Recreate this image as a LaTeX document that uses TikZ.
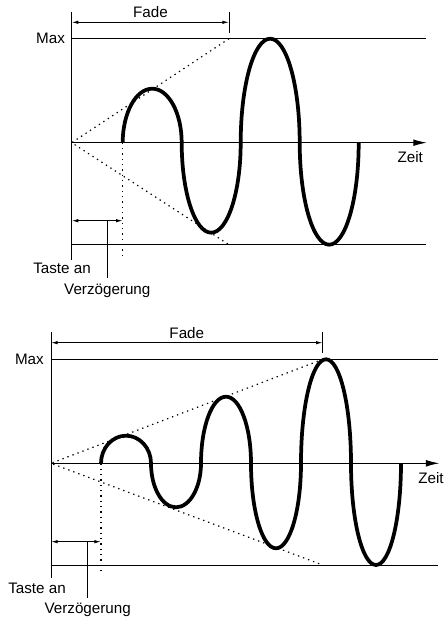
\documentclass[tikz,border=0pt]{standalone}
\usepackage{fontspec}
\setmainfont{Liberation Sans}
\usetikzlibrary{arrows.meta}

\begin{document}
\begin{tikzpicture}[x=.75pt,y=.75pt,>={Latex[length=5pt,width=2.6pt]},
  rule/.style={line width=.7pt},
  envelope/.style={line width=.9pt,dash pattern=on 1pt off 3pt},
  wave/.style={line width=2.8pt},
  lab/.style={inner sep=0pt,font=\fontsize{11.4}{13}\selectfont},
  axisarrow/.style={rule,-{Latex[length=10pt,width=5pt]}}]
\useasboundingbox (0,0) rectangle (444,622);
% upper panel: short fade
\begin{scope}[shift={(71.7,479.3)}]
  \coordinate (o1) at (0,0);
  \coordinate (k1) at (51,0);
  \draw[rule] (0,131) -- (0,-117.3);
  \draw[rule] (0,104) -- (354.3,104);
  \draw[rule] (0,-102) -- (354.3,-102);
  \draw[axisarrow] (o1) -- (355,0);
  \draw[rule] (157.3,131) -- (157.3,109.7);
  \draw[rule,<->] (0,120.4) -- (157.3,120.4);
  \draw[envelope] (157.3,104) -- (o1) -- (157.3,-102);
  \draw[envelope] (k1) -- (51,-114.3);
  \draw[rule,<->] (0,-78) -- (51,-78);
  \node[lab,anchor=east] (max1) at (-6.5,104) {Max};
  \node[lab,anchor=base] (fade1) at (78.7,125) {Fade};
  \node[lab,anchor=base] (zeit1) at (338.6,-20) {Zeit};
  \node[lab,anchor=base] (key1) at (-9.7,-131) {Taste an};
  \node[lab,anchor=base] (dly1) at (35.6,-152) {Verzögerung};
  \draw[rule] (35.6,-78) -- (35.6,-135);
  \draw[wave] (k1) foreach \r/\e in {54/0,90/360,104/0,102/360}{
    arc[start angle=180,end angle=\e,x radius=29.5,y radius=\r]};
\end{scope}
% lower panel: long fade
\begin{scope}[shift={(51,158.7)}]
  \coordinate (o2) at (0,0);
  \coordinate (k2) at (50,0);
  \draw[rule] (0,131.6) -- (0,-115);
  \draw[rule] (0,104) -- (387,104);
  \draw[rule] (0,-101.7) -- (387,-101.7);
  \draw[axisarrow] (o2) -- (388.3,0);
  \draw[rule] (271.7,131.6) -- (271.7,110);
  \draw[rule,<->] (0,120.6) -- (271.7,120.6);
  \draw[envelope] (271.7,104) -- (o2) -- (271.7,-101.7);
  \draw[envelope] (k2) -- (50,-106.7);
  \draw[rule,<->] (0,-78.4) -- (50,-78.4);
  \node[lab,anchor=east] (max2) at (-7,104) {Max};
  \node[lab,anchor=base] (fade2) at (135.8,125) {Fade};
  \node[lab,anchor=base] (zeit2) at (380,-20.5) {Zeit};
  \node[lab,anchor=base] (key2) at (-14,-130) {Taste an};
  \node[lab,anchor=base] (dly2) at (36.7,-150) {Verzögerung};
  \draw[rule] (36.7,-78.4) -- (36.7,-135);
  \draw[wave] (k2) foreach \r/\e in {27.6/0,44/360,66.6/0,85/360,104/0,101.7/360}{
    arc[start angle=180,end angle=\e,x radius=25,y radius=\r]};
\end{scope}
\end{tikzpicture}
\end{document}
